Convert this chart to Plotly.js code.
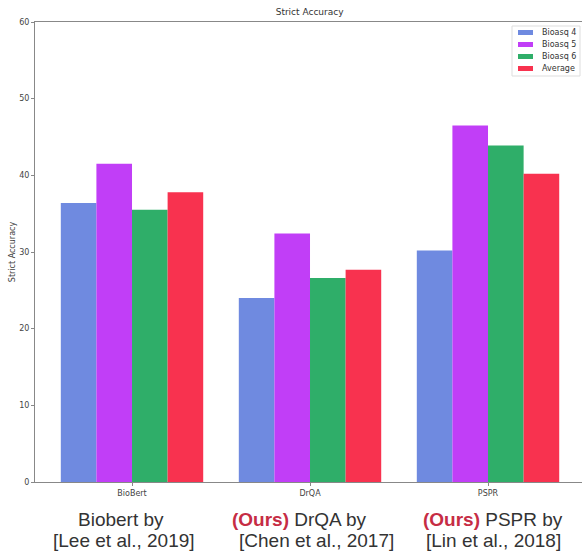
<!DOCTYPE html>
<html>
<head>
<meta charset="utf-8">
<script src="https://cdn.plot.ly/plotly-3.0.1.min.js"></script>
<style>html,body{margin:0;padding:0;background:#fff;}#chart{width:582px;height:551px;}</style>
</head>
<body>
<div id="chart"></div>
<script>
const categories = ["BioBert", "DrQA", "PSPR"];
const seriesNames = ["Bioasq 4", "Bioasq 5", "Bioasq 6", "Average"];
const bioasq4 = [36.4, 24.0, 30.2];
const bioasq5 = [41.5, 32.4, 46.5];
const bioasq6 = [35.5, 26.6, 43.9];
const average = [37.8, 27.7, 40.2];
const colors = ["#6f8ae0", "#c13ef7", "#2fae69", "#f8324f"];
const yTicks = [0, 10, 20, 30, 40, 50, 60];
const bottomLine1 = ["Biobert by", "DrQA by", "PSPR by"];
const bottomLine2 = ["[Lee et al., 2019]", "[Chen et al., 2017]", "[Lin et al., 2018]"];
const isOurs = [false, true, true];

// layout geometry (pixels)
const W = 582, H = 551, ML = 35, MR = 0, MT = 22, MB = 69;
const PW = W - ML - MR, PH = H - MT - MB;
const px = v => (v - ML) / PW;
const py = v => (H - MB - v) / PH;

const xIdx = categories.map((c, i) => i);
const allSeries = [bioasq4, bioasq5, bioasq6, average];
const traces = allSeries.map((vals, k) => ({
  type: "bar",
  name: seriesNames[k],
  x: xIdx,
  y: vals,
  marker: {color: colors[k], line: {width: 0}},
  hoverinfo: "y",
  showlegend: false
}));

const small = {family: "DejaVu Sans, sans-serif", size: 8, color: "#444"};
const annotations = [];
const shapes = [];
const bigFont = {family: "Liberation Sans, Arial, sans-serif", size: 19, color: "#333"};
const line1X = [121, 299, 493];
const line2X = [124, 316, 493];
categories.forEach((c, i) => {
  const t1 = isOurs[i] ? '<span style="color:#c62c44"><b>(Ours)</b></span> ' + bottomLine1[i] : bottomLine1[i];
  annotations.push({xref: "paper", yref: "paper", x: px(line1X[i]), y: 0, xanchor: "center", yanchor: "top", yshift: -25,
    text: t1, showarrow: false, font: bigFont});
  annotations.push({xref: "paper", yref: "paper", x: px(line2X[i]), y: 0, xanchor: "center", yanchor: "top", yshift: -46,
    text: bottomLine2[i], showarrow: false, font: bigFont});
});

// legend box drawn in the upper right corner
shapes.push({type: "rect", xref: "paper", yref: "paper", x0: px(512), x1: px(580), y0: py(76), y1: py(26),
  line: {color: "#dddddd", width: 1}, fillcolor: "rgba(255,255,255,0.9)", layer: "above"});
const rowY = [32.5, 44.5, 56.5, 68.5];
seriesNames.forEach((n, k) => {
  shapes.push({type: "rect", xref: "paper", yref: "paper", x0: px(518), x1: px(533),
    y0: py(rowY[k] + 2.5), y1: py(rowY[k] - 2.5), line: {width: 0}, fillcolor: colors[k], layer: "above"});
  annotations.push({xref: "paper", yref: "paper", x: px(540), y: py(rowY[k]), xanchor: "left", yanchor: "middle",
    text: n, showarrow: false, font: {family: "DejaVu Sans, sans-serif", size: 8, color: "#333"}});
});

const layout = {
  width: W, height: H,
  margin: {l: ML, r: MR, t: MT, b: MB, pad: 0},
  paper_bgcolor: "#fff", plot_bgcolor: "#fff",
  barmode: "group", bargap: 0.2, bargroupgap: 0,
  title: {text: "Strict Accuracy", x: 0.532, xanchor: "center", y: 0.985, yanchor: "top",
          font: {family: "DejaVu Sans, sans-serif", size: 9, color: "#333"}},
  xaxis: {
    range: [-0.545, 2.528], tickvals: xIdx, ticktext: categories,
    showgrid: false, zeroline: false, showline: true, linecolor: "#888", linewidth: 1,
    mirror: true, ticks: "outside", ticklen: 3, tickcolor: "#888", tickfont: small
  },
  yaxis: {
    range: [0, 60], tickvals: yTicks, ticktext: yTicks.map(String),
    showgrid: false, zeroline: false, showline: true, linecolor: "#888", linewidth: 1,
    ticks: "outside", ticklen: 3, tickcolor: "#888", tickfont: small,
    title: {text: "Strict Accuracy", standoff: 2, font: {family: "DejaVu Sans, sans-serif", size: 8, color: "#444"}}
  },
  annotations: annotations,
  shapes: shapes,
  showlegend: false
};

Plotly.newPlot("chart", traces, layout, {displayModeBar: false, staticPlot: true});
</script>
</body>
</html>
